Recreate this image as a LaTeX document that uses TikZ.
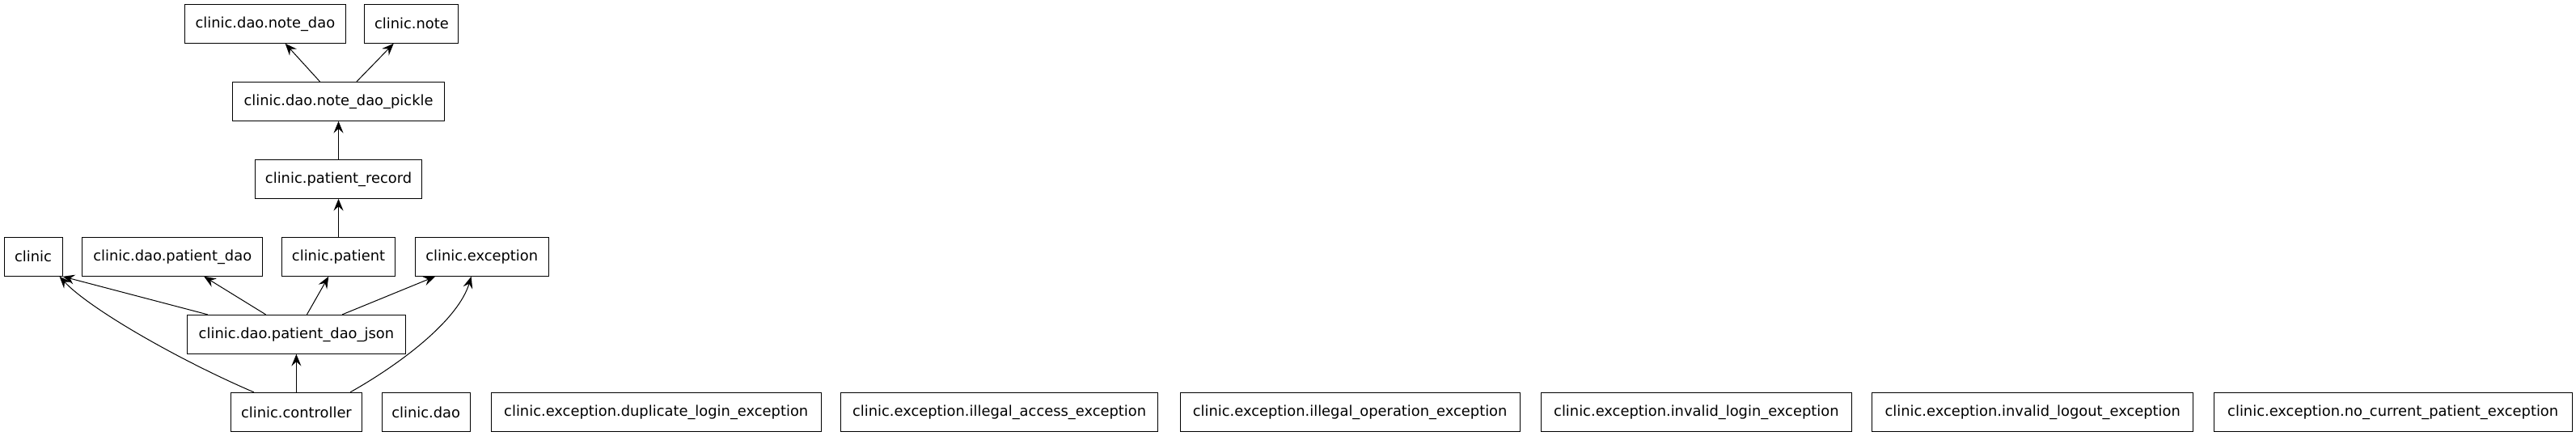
\documentclass[tikz,border=0pt]{standalone}
\usepackage{fontspec}
\setmainfont{DejaVu Sans}
\usepackage{tikz}
\usetikzlibrary{arrows.meta}
\pgfdeclarelayer{edgelayer}
\pgfdeclarelayer{nodelayer}
\pgfsetlayers{edgelayer,nodelayer,main}
\tikzstyle{module}=[rectangle, fill=white, draw=black, line width=0.75pt, minimum height=36pt, inner xsep=0pt, inner ysep=0pt, font=\fontsize{13.4}{16}\selectfont]
\tikzstyle{dep}=[draw=black, line width=0.75pt, -{Stealth[length=11pt,width=9pt,inset=4pt]}]

\begin{document}
\begin{tikzpicture}[x=1pt, y=1pt]
	\useasboundingbox (0,0) rectangle (2388.75,-404.25);
	\begin{pgfonlayer}{nodelayer}

	%rank 1
		\node [style=module, minimum width=149pt] (0) at (245.9,-22) {clinic.dao.note\_dao};
		\node [style=module, minimum width=87pt] (1) at (381.7,-22) {clinic.note};
	%rank 2
		\node [style=module, minimum width=197pt] (2) at (313.9,-94) {clinic.dao.note\_dao\_pickle};
	%rank 3
		\node [style=module, minimum width=155pt] (3) at (313.9,-166) {clinic.patient\_record};
	%rank 4
		\node [style=module, minimum width=54pt] (4) at (30.8,-238) {clinic};
		\node [style=module, minimum width=167pt] (5) at (159.9,-238) {clinic.dao.patient\_dao};
		\node [style=module, minimum width=105pt] (6) at (313.9,-238) {clinic.patient};
		\node [style=module, minimum width=124pt] (7) at (446.8,-238) {clinic.exception};
	%rank 5
		\node [style=module, minimum width=203pt] (8) at (274.8,-310) {clinic.dao.patient\_dao\_json};
	%rank 6
		\node [style=module, minimum width=122pt] (9) at (274.8,-382) {clinic.controller};
		\node [style=module, minimum width=82pt] (10) at (395,-382) {clinic.dao};
		\node [style=module, minimum width=306pt] (11) at (608.4,-382) {clinic.exception.duplicate\_login\_exception};
		\node [style=module, minimum width=294pt] (12) at (926.7,-382) {clinic.exception.illegal\_access\_exception};
		\node [style=module, minimum width=315pt] (13) at (1251.8,-382) {clinic.exception.illegal\_operation\_exception};
		\node [style=module, minimum width=288.5pt] (14) at (1573,-382) {clinic.exception.invalid\_login\_exception};
		\node [style=module, minimum width=298pt] (15) at (1884.9,-382) {clinic.exception.invalid\_logout\_exception};
		\node [style=module, minimum width=332.5pt] (16) at (2219,-382) {clinic.exception.no\_current\_patient\_exception};

	\end{pgfonlayer}
	\begin{pgfonlayer}{edgelayer}

		%imports
		\draw [style=dep] ([xshift=-17.3pt]2.north) to ([xshift=18.6pt]0.south);
		\draw [style=dep] ([xshift=16.9pt]2.north) to ([xshift=-16.7pt]1.south);
		\draw [style=dep] (3) to (2);
		\draw [style=dep] (6) to (3);
		\draw [style=dep] ([xshift=-82.3pt]8.north) to (4.south east);
		\draw [style=dep] ([xshift=-28.4pt]8.north) to ([xshift=29.3pt]5.south);
		\draw [style=dep] ([xshift=9.8pt]8.north) to ([xshift=-9.2pt]6.south);
		\draw [style=dep] ([xshift=42.6pt]8.north) to ([xshift=-43.3pt]7.south);
		\draw [style=dep] (9) to (8);
		\draw [style=dep] ([xshift=-39.4pt]9.north) .. controls +(-70,30) and +(28,-30) .. ([xshift=-3pt]4.south east);
		\draw [style=dep] ([xshift=50pt]9.north) .. controls +(48,27) and +(-12,-40) .. ([xshift=-9.8pt]7.south);

	\end{pgfonlayer}
\end{tikzpicture}
\end{document}
